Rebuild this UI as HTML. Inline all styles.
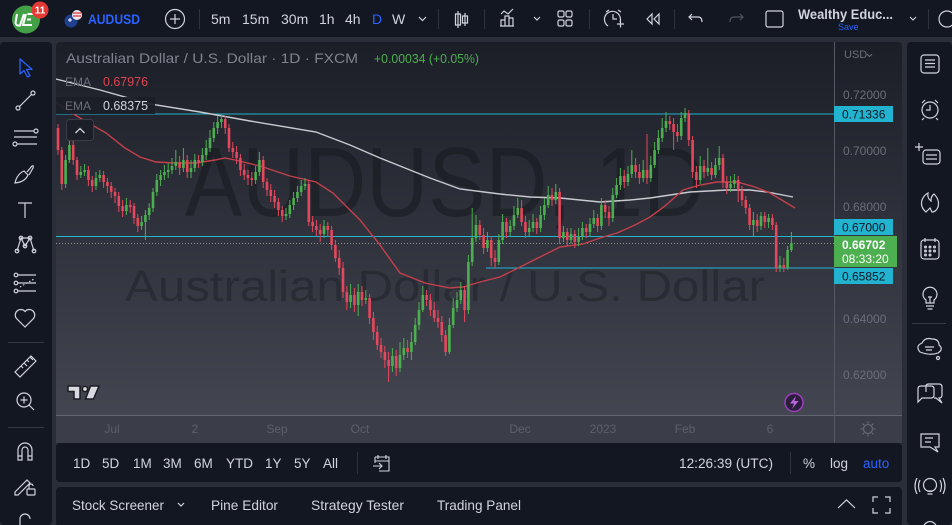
<!DOCTYPE html>
<html><head><meta charset="utf-8"><style>
html,body{margin:0;padding:0;background:#2a2e39;}
svg{display:block;}
text{font-family:"Liberation Sans",sans-serif;}
</style></head><body>
<svg width="952" height="525" viewBox="0 0 952 525" xmlns="http://www.w3.org/2000/svg">
<defs>
<linearGradient id="bg" x1="0" y1="42" x2="0" y2="415" gradientUnits="userSpaceOnUse">
<stop offset="0" stop-color="#1b1e27"/><stop offset="1" stop-color="#434650"/>
</linearGradient>
<clipPath id="cp"><rect x="56" y="42" width="778" height="373"/></clipPath>
</defs>
<rect width="952" height="525" fill="#2a2e39"/>
<!-- top bar -->
<rect x="0" y="0" width="952" height="37" fill="#131722"/>
<!-- left bar -->
<rect x="0" y="42" width="52" height="483" rx="4" fill="#131722"/>
<!-- right bar -->
<rect x="907" y="42" width="45" height="483" rx="4" fill="#131722"/>
<!-- chart panel -->
<rect x="56" y="42" width="846" height="401" rx="4" fill="url(#bg)"/>
<rect x="56" y="415" width="846" height="28" fill="#3b3e49"/>
<line x1="56" y1="415.5" x2="902" y2="415.5" stroke="#62656f" stroke-width="1"/>
<line x1="834.5" y1="42" x2="834.5" y2="443" stroke="#565964" stroke-width="1"/>
<!-- bottom toolbar -->
<rect x="56" y="443" width="846" height="39" rx="4" fill="#131722"/>
<rect x="56" y="487" width="846" height="40" rx="4" fill="#131722"/>

<!-- chart contents -->
<g clip-path="url(#cp)">
<text x="445" y="216" text-anchor="middle" font-size="98" textLength="520" lengthAdjust="spacingAndGlyphs" fill="#121419" fill-opacity="0.45">AUDUSD, 1D</text>
<text x="445" y="301" text-anchor="middle" font-size="44" textLength="640" lengthAdjust="spacingAndGlyphs" fill="#16181e" fill-opacity="0.4">Australian Dollar / U.S. Dollar</text>

<line x1="56" y1="114" x2="834" y2="114" stroke="#1fb4d2" stroke-width="1"/>
<line x1="56" y1="236.5" x2="834" y2="236.5" stroke="#1fb4d2" stroke-width="1"/>
<line x1="486" y1="268" x2="834" y2="268" stroke="#1fb4d2" stroke-width="1"/>
<line x1="56" y1="243.5" x2="834" y2="243.5" stroke="#8a8d96" stroke-width="1" stroke-dasharray="1 2"/>

<path d="M56 79 L100 90 L150 104 L200 112 L250 121 L316 132 L350 145 L380 158 L410 170 L430 178 L460 189 L500 194 L530 197 L560 198 L600 202 L630 200 L650 198 L670 195 L690 192 L727 190 L750 190 L767 192 L793 197" fill="none" stroke="#c9cbd1" stroke-width="1.4"/>
<path d="M56 103 L80 118 L106 133 L125 148 L140 157 L156 162 L175 163 L196 163 L215 160 L225 158 L235 160 L260 166 L290 176 L316 182 L333 193 L360 220 L380 245 L400 273 L425 283 L450 288 L463 287 L480 282 L500 277 L530 262 L560 247 L583 244 L600 238 L617 233 L635 225 L650 217 L665 206 L683 190 L700 185 L717 182 L737 182 L755 187 L770 193 L785 202 L795 208" fill="none" stroke="#c4404c" stroke-width="1.4"/>

<g fill="none" stroke-linecap="butt">
<path stroke="#e5475c" stroke-width="1" d="M58 124V155M61.8 147V190M73.2 140V165M77 157V180M88.4 166V186M92.2 176V192M103.6 171V188M107.4 178V193M111.2 182V198M115 188V203M118.8 192V212M122.6 200V217M130.2 200V213M134 203V224M137.8 214V232M179.6 156V175M187.2 155V178M198.6 155V168M225.2 116V134M229 124V152M232.8 142V158M236.6 146V164M240.4 154V176M244.2 164V180M248 170V185M251.8 172V186M263.2 156V188M267 178V196M270.8 184V202M274.6 190V208M278.4 198V216M282.2 206V222M308.8 180V226M312.6 216V232M316.4 220V236M320.2 224V242M327.8 222V236M331.6 226V250M335.4 240V262M339.2 250V275M343 262V298M346.8 286V310M354.4 288V312M362 286V306M369.6 294V324M373.4 312V340M377.2 326V350M381 338V358M384.8 346V368M388.6 352V382M396.2 350V376M407.6 340V358M426.6 290V306M430.4 294V316M434.2 302V322M438 310V328M441.8 316V342M445.6 330V356M464.6 286V322M479.8 220V240M483.6 228V254M491.2 236V266M495 250V268M506.4 218V238M521.6 200V226M525.4 216V238M536.8 218V234M552 188V206M559.6 188V244M567.2 228V246M574.8 230V248M586.2 224V238M597.6 214V232M605.2 200V218M609 206V226M624.2 170V188M635.6 158V178M639.4 164V184M647 134V184M669.8 116V130M673.6 118V150M677.4 124V142M688.8 110V146M692.6 136V178M696.4 166V188M704 160V178M711.6 162V180M723 154V188M726.8 176V194M738.2 176V202M742 186V206M745.8 196V214M749.6 204V230M757.2 214V232M764.8 212V228M772.4 214V230M776.2 222V272M783.8 258V272"/>
<path stroke="#e5475c" stroke-width="2.6" d="M58 128V150M61.8 150V184M73.2 145V160M77 160V175M88.4 170V180M92.2 180V186M103.6 175V182M107.4 182V186M111.2 186V192M115 192V196M118.8 196V206M122.6 206V211M130.2 205V207M134 206V218M137.8 218V226M179.6 162V168M187.2 160V172M198.6 160V163M225.2 119V128M229 128V148M232.8 148V152M236.6 152V158M240.4 158V170M244.2 170V175M248 175V178M251.8 178V180M263.2 160V182M267 182V190M270.8 190V196M274.6 196V202M278.4 202V210M282.2 210V216M308.8 184V222M312.6 222V226M316.4 226V230M320.2 230V234M327.8 226V230M331.6 230V245M335.4 245V258M339.2 258V268M343 268V292M346.8 292V302M354.4 295V305M362 292V300M369.6 298V318M373.4 318V332M377.2 332V345M381 345V352M384.8 352V360M388.6 360V366M396.2 356V368M407.6 348V352M426.6 295V300M430.4 300V310M434.2 310V318M438 318V322M441.8 322V335M445.6 335V352M464.6 290V310M479.8 225V235M483.6 235V248M491.2 240V258M495 258V262M506.4 222V232M521.6 208V222M525.4 222V232M536.8 222V228M552 195V200M559.6 192V238M567.2 232V240M574.8 234V242M586.2 228V232M597.6 218V226M605.2 205V212M609 212V218M624.2 176V182M635.6 165V172M639.4 172V178M647 170V178M669.8 121V124M673.6 124V132M677.4 132V136M688.8 113V140M692.6 140V172M696.4 172V180M704 166V172M711.6 168V175M723 158V182M726.8 182V188M738.2 180V190M742 190V200M745.8 200V208M749.6 208V225M757.2 220V226M764.8 216V222M772.4 218V225M776.2 225V268M783.8 265V268"/>
<path stroke="#4caf50" stroke-width="1" d="M65.6 155V188M69.4 138V163M80.8 166V178M84.6 164V176M96 172V190M99.8 170V182M126.4 198V215M141.6 216V230M145.4 210V240M149.2 203V220M153 188V212M156.8 174V196M160.6 170V186M164.4 165V180M168.2 163V178M172 158V174M175.8 150V170M183.4 148V172M191 160V178M194.8 154V172M202.4 148V166M206.2 140V160M210 130V152M213.8 122V142M217.6 116V134M221.4 114V128M255.6 166V184M259.4 152V176M286 208V220M289.8 200V218M293.6 192V210M297.4 186V202M301.2 180V196M305 178V190M324 220V238M350.6 284V308M358.2 284V316M365.8 290V304M392.4 348V372M400 342V372M403.8 338V360M411.4 332V360M415.2 318V345M419 302V330M422.8 286V312M449.4 318V354M453.2 298V328M457 292V312M460.8 282V304M468.4 255V314M472.2 208V266M476 215V242M487.4 232V252M498.8 234V265M502.6 214V244M510.2 220V236M514 206V230M517.8 198V218M529.2 220V236M533 214V232M540.6 206V232M544.4 198V220M548.2 186V208M555.8 184V204M563.4 226V242M571 228V244M578.6 228V246M582.4 222V240M590 218V236M593.8 210V228M601.4 198V230M612.8 188V222M616.6 178V198M620.4 168V190M628 166V186M631.8 150V178M643.2 160V182M650.8 156V182M654.6 142V168M658.4 130V154M662.2 118V142M666 112V132M681.2 112V140M685 108V122M700.2 156V184M707.8 148V176M715.4 158V178M719.2 146V170M730.6 176V192M734.4 174V188M753.4 212V236M761 212V230M768.6 214V228M780 256V272M787.6 246V270M791.4 232V252"/>
<path stroke="#4caf50" stroke-width="2.6" d="M65.6 160V184M69.4 145V160M80.8 172V175M84.6 170V172M96 178V186M99.8 175V178M126.4 205V211M141.6 222V226M145.4 215V222M149.2 208V215M153 192V208M156.8 180V192M160.6 175V180M164.4 172V175M168.2 170V172M172 166V170M175.8 162V166M183.4 160V168M191 168V172M194.8 160V168M202.4 155V162M206.2 148V155M210 138V148M213.8 128V138M217.6 122V128M221.4 119V122M255.6 172V180M259.4 160V172M286 214V216M289.8 205V214M293.6 198V205M297.4 192V198M301.2 186V192M305 184V186M324 226V234M350.6 295V302M358.2 292V305M365.8 298V300M392.4 356V366M400 355V368M403.8 348V355M411.4 342V352M415.2 325V342M419 310V325M422.8 295V310M449.4 325V352M453.2 308V325M457 300V308M460.8 290V300M468.4 262V310M472.2 238V262M476 225V238M487.4 240V248M498.8 240V262M502.6 222V240M510.2 226V232M514 215V226M517.8 208V215M529.2 228V232M533 222V228M540.6 215V228M544.4 205V215M548.2 195V205M555.8 192V200M563.4 232V238M571 234V240M578.6 236V242M582.4 228V236M590 224V232M593.8 218V224M601.4 205V226M612.8 195V218M616.6 185V195M620.4 176V185M628 174V182M631.8 165V174M643.2 170V178M650.8 165V178M654.6 150V165M658.4 138V150M662.2 128V138M666 121V128M681.2 118V136M685 113V118M700.2 166V180M707.8 168V172M715.4 165V175M719.2 158V165M730.6 184V188M734.4 180V184M753.4 220V225M761 216V226M768.6 218V222M780 265V268M787.6 250V268M791.4 243V250"/>
</g>

<!-- legend -->
<text x="66" y="63" font-size="14" fill="#80838d" textLength="292" lengthAdjust="spacingAndGlyphs">Australian Dollar / U.S. Dollar · 1D · FXCM</text>
<text x="374" y="63" font-size="12.5" fill="#4caf50" textLength="105" lengthAdjust="spacingAndGlyphs">+0.00034 (+0.05%)</text>
<text x="65" y="86" font-size="12" fill="#6b6e78">EMA</text>
<text x="103" y="86" font-size="12.5" fill="#e0444f" textLength="45" lengthAdjust="spacingAndGlyphs">0.67976</text>
<rect x="56" y="97" width="99" height="17" fill="#1b1e27" fill-opacity="0.92"/>
<text x="65" y="110" font-size="12" fill="#6b6e78">EMA</text>
<text x="103" y="110" font-size="12.5" fill="#d1d4dc" textLength="45" lengthAdjust="spacingAndGlyphs">0.68375</text>
<rect x="66.5" y="119.5" width="27" height="21" rx="3" fill="#1c1f28" stroke="#3a3d47"/>
<path d="M75.5 133 L80 128.5 L84.5 133" fill="none" stroke="#d1d4dc" stroke-width="1.3"/>

<!-- TV logo -->
<g stroke="#1a1c22" stroke-width="1.5" fill="#d8dae0">
<path d="M68 386 H80 V399 H74 V391.5 H68 Z"/>
<circle cx="85" cy="389" r="2.6"/>
<path d="M90.5 386 H99 L93.5 399 H85.5 Z"/>
</g>
</g>

<!-- lightning -->
<circle cx="794" cy="402.5" r="9" fill="#2b1d3b" stroke="#9b3fbf" stroke-width="1.5"/>
<path d="M796 396 L790 403.5 H794 L792 409 L798.5 401 H794.5 Z" fill="#b866dd"/>

<!-- price axis -->
<g font-size="12" fill="#6b6e78">
<text x="844" y="58" font-size="11">USD</text>
<path d="M867 54 L869.5 56.5 L872 54" fill="none" stroke="#6b6e78" stroke-width="1"/>
<text x="843" y="99">0.72000</text>
<text x="843" y="155">0.70000</text>
<text x="843" y="211">0.68000</text>
<text x="843" y="323">0.64000</text>
<text x="843" y="379">0.62000</text>
</g>
<rect x="834" y="106" width="59" height="16" fill="#21b3cf"/>
<text x="842" y="118.5" font-size="12" fill="#131722">0.71336</text>
<rect x="834" y="219" width="59" height="16" fill="#21b3cf"/>
<text x="842" y="231.5" font-size="12" fill="#131722">0.67000</text>
<rect x="834" y="236" width="63" height="31" fill="#4caf50"/>
<text x="842" y="249" font-size="12" font-weight="bold" fill="#ffffff">0.66702</text>
<text x="842" y="263" font-size="12" fill="#ffffff">08:33:20</text>
<rect x="834" y="268" width="59" height="16" fill="#21b3cf"/>
<text x="842" y="280.5" font-size="12" fill="#131722">0.65852</text>

<!-- time axis -->
<g font-size="12" fill="#5d606b" text-anchor="middle">
<text x="112" y="433">Jul</text>
<text x="195" y="433">2</text>
<text x="277" y="433">Sep</text>
<text x="360" y="433">Oct</text>
<text x="520" y="433">Dec</text>
<text x="603" y="433">2023</text>
<text x="685" y="433">Feb</text>
<text x="770" y="433">6</text>
</g>
<g stroke="#6b6e78" stroke-width="1.1" fill="none">
<circle cx="868" cy="429" r="4.5"/>
<path d="M868 421.5V423.5M868 434.5V436.5M860.5 429H862.5M873.5 429H875.5M862.7 423.7L864.1 425.1M871.9 432.9L873.3 434.3M862.7 434.3L864.1 432.9M871.9 425.1L873.3 423.7"/>
</g>

<!-- top bar -->
<circle cx="26" cy="19.5" r="14" fill="#43a047"/>
<path d="M17 14 L15.5 23 Q16 26 20 25.5 L24 14 M26 14 L23 25 H32 M27 19.5 H31 M27.5 14 H34" fill="none" stroke="#ffffff" stroke-width="2"/>
<circle cx="40" cy="10" r="8.5" fill="#e53935"/>
<text x="40" y="13.5" font-size="10" font-weight="bold" fill="#ffffff" text-anchor="middle">11</text>
<circle cx="71" cy="21" r="6.5" fill="#1f3f8f"/>
<circle cx="77" cy="15" r="5" fill="#e9e9f0"/>
<path d="M73 13 H81 M73 16 H81" stroke="#d33" stroke-width="1.2"/>
<path d="M68 20 H72 M70 18 V22" stroke="#ffffff" stroke-width="1"/>
<text x="88" y="24" font-size="14" font-weight="bold" fill="#2962ff" textLength="52" lengthAdjust="spacingAndGlyphs">AUDUSD</text>
<g fill="none" stroke="#d1d4dc" stroke-width="1.2">
<circle cx="175" cy="19" r="9.5"/>
<path d="M175 14V24M170 19H180"/>
</g>
<g stroke="#2e323d" stroke-width="1">
<line x1="199.5" y1="9" x2="199.5" y2="29"/>
<line x1="438.5" y1="9" x2="438.5" y2="29"/>
<line x1="484.5" y1="9" x2="484.5" y2="29"/>
<line x1="589.5" y1="9" x2="589.5" y2="29"/>
<line x1="674.5" y1="9" x2="674.5" y2="29"/>
<line x1="928.5" y1="9" x2="928.5" y2="29"/>
</g>
<g font-size="14" fill="#d1d4dc">
<text x="211" y="24">5m</text>
<text x="242" y="24">15m</text>
<text x="281" y="24">30m</text>
<text x="319" y="24">1h</text>
<text x="345" y="24">4h</text>
<text x="372" y="24" fill="#2962ff">D</text>
<text x="392" y="24">W</text>
</g>
<g fill="none" stroke="#d1d4dc" stroke-width="1.2">
<path d="M419 17 L422.5 20.5 L426 17"/>
<path d="M458 11V28M455.5 14H460.5V25H455.5Z M465 13V26M462.5 16H467.5V23H462.5Z"/>
<path d="M501 14 L504 11 L508 14 L513 9 M501 26V20H505V26M505 26V16H509V26M509 26V18H513V26M500 26H514"/>
<path d="M534 17 L537 20 L540 17"/>
<rect x="558" y="11" width="6" height="6" rx="1.5"/><rect x="566" y="11" width="6" height="6" rx="1.5"/>
<rect x="558" y="20" width="6" height="6" rx="1.5"/><rect x="566" y="20" width="6" height="6" rx="1.5"/>
<path d="M608 26 A8 8 0 1 1 620 22 M613 14V19H617 M606 12 L609 10 M621 12 L618 10 M617 24H624M620.5 20.5V27.5"/>
<path d="M647 19 L652 14 V24 Z M654 19 L659 14 V24 Z"/>
<path d="M692 14 L689 17 L692 20 M689 17 H698 Q702 17 702 22"/>
</g>
<path d="M740 14 L743 17 L740 20 M743 17 H734 Q730 17 730 22" fill="none" stroke="#50535e" stroke-width="1.2"/>
<rect x="766" y="11" width="17" height="16" rx="2" fill="none" stroke="#d1d4dc" stroke-width="1.2"/>
<text x="798" y="19" font-size="13.5" font-weight="bold" fill="#d1d4dc" textLength="95" lengthAdjust="spacingAndGlyphs">Wealthy Educ...</text>
<text x="838" y="30" font-size="9" fill="#2962ff">Save</text>
<path d="M910 17 L913 20 L916 17" fill="none" stroke="#d1d4dc" stroke-width="1.1"/>
<circle cx="947" cy="19" r="8" fill="none" stroke="#d1d4dc" stroke-width="1.2"/>

<!-- left toolbar -->
<path d="M20 59 V74 L24 70.5 L27.5 77 L30 75.8 L26.6 69.4 L32 69.4 Z" fill="none" stroke="#2962ff" stroke-width="1.3" stroke-linejoin="round"/>
<g fill="none" stroke="#d1d4dc" stroke-width="1.2">
<path d="M19.5 106.5 L31.5 94.5"/><circle cx="18" cy="108" r="2"/><circle cx="33" cy="93" r="2"/>
<path d="M14 131H34M14 137H37M17 144H37"/><circle cx="36" cy="131" r="2"/><circle cx="15" cy="144" r="2"/>
<path d="M15 183 Q17 174 24 171 L28 175 Q25 182 15 183 Z M27 172 L32 166 Q34 165 33 168 L29 175"/>
<path d="M18 203H32M25 203V218"/>
<path d="M17 251 L21 238 L25 246 L30 238 L34 251 M21 238 H30"/>
<circle cx="17" cy="251" r="1.8"/><circle cx="21" cy="238" r="1.8"/><circle cx="25" cy="246" r="1.8"/><circle cx="30" cy="238" r="1.8"/><circle cx="34" cy="251" r="1.8"/>
<path d="M18 275H36M18 283H36M18 291H36"/><path d="M20 287 L34 279" stroke-dasharray="1.5 2"/>
<circle cx="16" cy="275" r="1.8"/><circle cx="16" cy="283" r="1.8"/><circle cx="16" cy="291" r="1.8"/>
<path d="M25 327 L16.5 318.5 A5 5 0 0 1 25 311.5 A5 5 0 0 1 33.5 318.5 Z"/>
<path d="M15 372 L31 356 L36 361 L20 377 Z M21 366 L23 368 M24 363 L27 366 M27 360 L29 362 M30 357 L33 360"/>
<circle cx="24" cy="400" r="7"/><path d="M29 405 L34 410 M24 396.5V403.5M20.5 400H27.5"/>
<path d="M18 460 V450 A7 7 0 0 1 32 450 V460 H28 V450 A3 3 0 0 0 22 450 V460 Z M18 456H22M28 456H32"/>
<path d="M15 492 L27 480 L30 483 L18 495 H15 Z"/><rect x="27" y="489" width="8" height="6" rx="1"/><path d="M29 489 V486 A2 2 0 0 1 33 486"/>
<path d="M20 525 V519 A5 5 0 0 1 30 519"/>
</g>
<g stroke="#363a45" stroke-width="1">
<line x1="8" y1="342.5" x2="44" y2="342.5"/>
<line x1="8" y1="427.5" x2="44" y2="427.5"/>
<line x1="912" y1="323.5" x2="946" y2="323.5"/>
</g>

<!-- right toolbar -->
<g fill="none" stroke="#d1d4dc" stroke-width="1.2">
<rect x="921" y="55" width="18" height="18" rx="3"/><path d="M925 60H935M925 63.5H935M925 67H935"/>
<circle cx="930" cy="110" r="8"/><path d="M930 105V110H926 M922 103 L925 100 M938 103 L935 100 M924 118 L922 120 M936 118 L938 120"/>
<rect x="923" y="150" width="17" height="14" rx="3"/><path d="M926 155H937M926 159H937M919 143V151M915 147H923"/>
<path d="M926 212 Q920 207 922 200 Q924 195 928 193 Q927 198 931 201 Q931 196 934 194 Q940 200 938 207 Q936 212 932 212 L930 208 Z"/>
<rect x="921" y="240" width="18" height="19" rx="3"/><path d="M925 238V242M935 238V242"/>
<circle cx="925.5" cy="247" r="0.9"/><circle cx="930" cy="247" r="0.9"/><circle cx="934.5" cy="247" r="0.9"/>
<circle cx="925.5" cy="251" r="0.9"/><circle cx="930" cy="251" r="0.9"/><circle cx="934.5" cy="251" r="0.9"/>
<circle cx="925.5" cy="255" r="0.9"/><circle cx="930" cy="255" r="0.9"/>
<path d="M926 300 A7 7 0 1 1 934 300 V303 H926 Z M926 306H934M927.5 309H932.5M928 297 H932 M930 297 V303"/>
<path d="M920 352 Q915 346 922 343 Q925 337 932 339 Q939 339 939 345 Q944 349 938 353 Q930 356 920 352 Z M925 347H934M926 350H932"/><circle cx="938" cy="358" r="1.5"/>
<path d="M918 395 V389 Q918 386 921 386 H931 Q934 386 934 389 V395 Q934 398 931 398 H922 L918 402 Z M926 392 V386 Q926 384 929 384 H939 Q942 384 942 387 V395 Q942 398 939 398 L942 403 L936 398 H934"/>
<path d="M921 434 H939 V447 H935 L938 452 L930 447 H921 Z M925 438H933M925 442H931"/>
<circle cx="930" cy="485" r="6.5"/><path d="M927 491 H933 M927.5 494 H932.5 M920 480 Q917 486 920 492 M917 478 Q913 486 917 494 M940 480 Q943 486 940 492 M943 478 Q947 486 943 494"/>
<path d="M924 525 Q930 518 936 525"/>
</g>

<!-- bottom toolbar -->
<g font-size="13.5" fill="#d1d4dc">
<text x="73" y="468">1D</text>
<text x="102" y="468">5D</text>
<text x="133" y="468">1M</text>
<text x="163" y="468">3M</text>
<text x="194" y="468">6M</text>
<text x="226" y="468">YTD</text>
<text x="265" y="468">1Y</text>
<text x="294" y="468">5Y</text>
<text x="323" y="468">All</text>
<text x="679" y="468" textLength="94" lengthAdjust="spacingAndGlyphs">12:26:39 (UTC)</text>
<text x="803" y="468">%</text>
<text x="830" y="468">log</text>
<text x="863" y="468" fill="#2962ff">auto</text>
</g>
<g stroke="#2e323d" stroke-width="1">
<line x1="357.5" y1="452" x2="357.5" y2="474"/>
<line x1="790.5" y1="452" x2="790.5" y2="474"/>
</g>
<g fill="none" stroke="#d1d4dc" stroke-width="1.1">
<path d="M375 457 H389 V471 H379 M375 457 V463 M378 455V459M386 455V459M375 461 H389 M373 466 H382 M379 463 L382 466 L379 469"/>
</g>

<!-- bottom panel -->
<g font-size="14" fill="#d1d4dc">
<text x="72" y="510" textLength="92" lengthAdjust="spacingAndGlyphs">Stock Screener</text>
<text x="211" y="510" textLength="67" lengthAdjust="spacingAndGlyphs">Pine Editor</text>
<text x="311" y="510" textLength="93" lengthAdjust="spacingAndGlyphs">Strategy Tester</text>
<text x="437" y="510" textLength="84" lengthAdjust="spacingAndGlyphs">Trading Panel</text>
</g>
<g fill="none" stroke="#d1d4dc" stroke-width="1.2">
<path d="M178 503 L181 506 L184 503"/>
<path d="M838 508 L846.5 500 L855 508"/>
<path d="M873 502 V497 H878 M885 497 H890 V502 M890 508 V513 H885 M878 513 H873 V508"/>
</g>
</svg>
</body></html>
